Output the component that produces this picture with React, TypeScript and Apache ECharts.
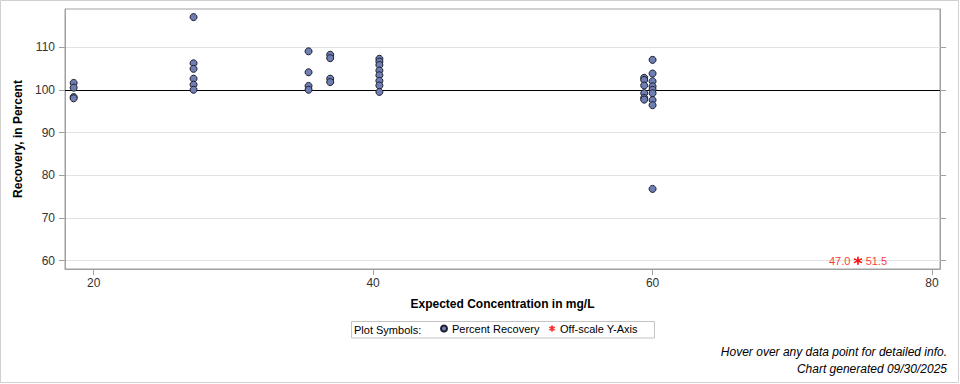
import React, { useEffect, useRef } from "react";
import * as echarts from "echarts";

// Expected concentration (mg/L) of each group of samples
const groupConcentrations = [18.57, 27.15, 35.38, 36.93, 40.45, 59.4, 60.0];
// Percent recovery values per group
const recoveryGroup1 = [101.6, 100.5, 98.3, 98.0];
const recoveryGroup2 = [117.0, 106.2, 104.9, 102.6, 101.2, 100.0];
const recoveryGroup3 = [109.0, 104.1, 100.9, 100.0];
const recoveryGroup4 = [108.2, 107.4, 102.6, 101.8];
const recoveryGroup5 = [107.25, 106.6, 105.8, 104.5, 103.4, 102.1, 101.0, 99.5];
const recoveryGroup6 = [102.8, 102.3, 101.0, 99.2, 98.1, 97.7];
const recoveryGroup7 = [107.0, 103.8, 102.0, 100.8, 100.0, 99.2, 97.6, 96.4, 76.8];
const recoveryGroups = [
  recoveryGroup1,
  recoveryGroup2,
  recoveryGroup3,
  recoveryGroup4,
  recoveryGroup5,
  recoveryGroup6,
  recoveryGroup7,
];

// Off-scale values (plotted at the bottom of the axis)
const offScaleConcentration = 74.7;
const offScaleValues = [47.0, 51.5];
const offScalePlotAt = 60;

const xTickValues = [20, 40, 60, 80];
const yTickValues = [60, 70, 80, 90, 100, 110];
const referenceRecovery = 100;

const FONT = '"Liberation Sans", Arial, Helvetica, sans-serif';
const ASTERISK = "path://M5,0L5,10M0.67,2.5L9.33,7.5M0.67,7.5L9.33,2.5";

export default function App() {
  const ref = useRef<HTMLDivElement>(null);

  useEffect(() => {
    if (!ref.current) return;
    const chart = echarts.init(ref.current, null, { renderer: "svg" });

    const recoveryData: number[][] = [];
    recoveryGroups.forEach((g, i) => {
      g.forEach((v) => recoveryData.push([groupConcentrations[i], v]));
    });

    const offScaleData = offScaleValues.map((v, i) => ({
      value: [offScaleConcentration, offScalePlotAt],
      label: {
        show: true,
        position: i === 0 ? "left" : "right",
        distance: 3,
        formatter: v.toFixed(1),
        color: "#ff0000",
        fontSize: 11,
        fontFamily: FONT,
      },
    }));

    const axisGray = "#a0a0a0";

    chart.setOption({
      animation: false,
      backgroundColor: "#ffffff",
      textStyle: { fontFamily: FONT },
      grid: {
        left: 65,
        right: 20,
        top: 9,
        bottom: 115,
        containLabel: false,
        outerBoundsMode: "none",
        show: true,
        borderColor: axisGray,
        borderWidth: 1,
        backgroundColor: "transparent",
      },
      xAxis: {
        type: "value",
        min: 17.95,
        max: 80.57,
        name: "Expected Concentration in mg/L",
        nameLocation: "middle",
        nameGap: 29,
        nameTextStyle: { fontWeight: "bold", fontSize: 12, color: "#000", fontFamily: FONT },
        axisLine: { show: true, lineStyle: { color: axisGray } },
        axisTick: {
          show: true,
          inside: false,
          length: 6,
          lineStyle: { color: axisGray },
          customValues: xTickValues,
        },
        axisLabel: {
          customValues: xTickValues,
          fontSize: 12,
          color: "#333",
          margin: 8,
          fontFamily: FONT,
          showMinLabel: true,
          showMaxLabel: true,
        },
        splitLine: { show: false },
      },
      yAxis: [
        {
          type: "value",
          min: 58.06,
          max: 118.9,
          name: "Recovery, in Percent",
          nameLocation: "middle",
          nameRotate: 90,
          nameGap: 41,
          nameTextStyle: { fontWeight: "bold", fontSize: 12, color: "#000", fontFamily: FONT },
          axisLine: { show: true, lineStyle: { color: axisGray } },
          axisTick: {
            show: true,
            inside: false,
            length: 6,
            lineStyle: { color: axisGray },
            customValues: yTickValues,
          },
          axisLabel: {
            customValues: yTickValues,
            fontSize: 12,
            color: "#333",
            margin: 10,
            fontFamily: FONT,
          },
          splitLine: { show: true, lineStyle: { color: "#e2e2e2", width: 1 } },
        },
        {
          type: "value",
          position: "right",
          min: 58.06,
          max: 118.9,
          axisLine: { show: true, lineStyle: { color: axisGray } },
          axisTick: {
            show: true,
            inside: false,
            length: 6,
            lineStyle: { color: axisGray },
            customValues: yTickValues,
          },
          axisLabel: { show: false },
          splitLine: { show: false },
        },
      ],
      legend: {
        left: 440,
        top: 323,
        padding: 0,
        itemWidth: 6,
        itemHeight: 6,
        itemGap: 9,
        textStyle: { fontSize: 11, color: "#000", fontFamily: FONT },
        data: [
          { name: "Percent Recovery", icon: "circle" },
          { name: "Off-scale Y-Axis", icon: ASTERISK },
        ],
      },
      series: [
        {
          name: "Percent Recovery",
          type: "scatter",
          symbol: "circle",
          symbolSize: 7,
          z: 3,
          itemStyle: { color: "#6F7EB3", borderColor: "#1e1e2e", borderWidth: 1, opacity: 1 },
          data: recoveryData,
          markLine: {
            silent: true,
            symbol: "none",
            label: { show: false },
            lineStyle: { color: "#000", width: 1, type: "solid" },
            data: [{ yAxis: referenceRecovery }],
            z: 2,
          },
        },
        {
          name: "Off-scale Y-Axis",
          type: "scatter",
          symbol: ASTERISK,
          symbolSize: 8,
          z: 4,
          itemStyle: { color: "#ff0000", borderColor: "#ff0000", borderWidth: 1.3 },
          data: offScaleData,
        },
      ],
      graphic: [
        {
          type: "rect",
          shape: { x: 0.5, y: 0.5, width: 958, height: 382 },
          style: { fill: "none", stroke: "#d0d0d0", lineWidth: 1 },
          silent: true,
        },
        {
          type: "rect",
          shape: { x: 351.5, y: 321.5, width: 303, height: 16.5 },
          style: { fill: "none", stroke: "#c4c4c4", lineWidth: 1 },
          silent: true,
        },
        {
          type: "text",
          x: 354,
          y: 330,
          style: {
            text: "Plot Symbols:",
            font: `11px ${FONT}`,
            fill: "#000",
            textVerticalAlign: "middle",
            verticalAlign: "middle",
          },
          silent: true,
        },
        {
          type: "text",
          x: 947,
          y: 352,
          style: {
            text: "Hover over any data point for detailed info.",
            font: `italic 12px ${FONT}`,
            fill: "#000",
            align: "right",
            verticalAlign: "middle",
          },
          silent: true,
        },
        {
          type: "text",
          x: 947,
          y: 368.5,
          style: {
            text: "Chart generated 09/30/2025",
            font: `italic 12px ${FONT}`,
            fill: "#000",
            align: "right",
            verticalAlign: "middle",
          },
          silent: true,
        },
      ],
    });

    return () => chart.dispose();
  }, []);

  return (
    <div
      ref={ref}
      style={{ position: "fixed", left: 0, top: 0, width: 960, height: 384, background: "#fff" }}
    />
  );
}
